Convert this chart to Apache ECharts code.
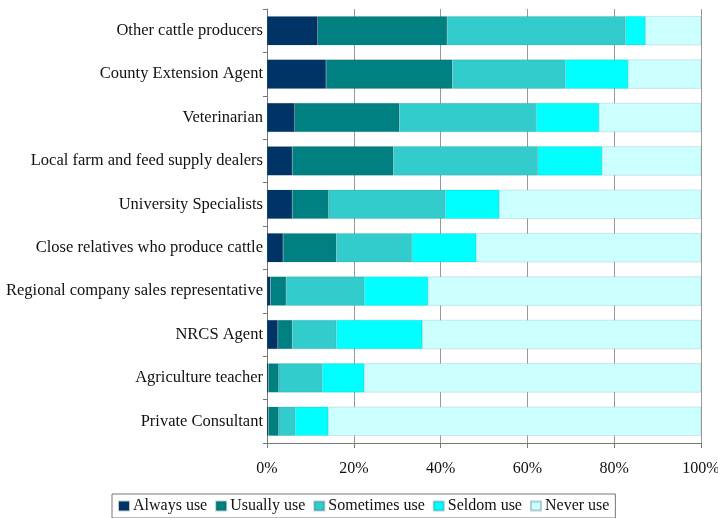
<!DOCTYPE html>
<html><head><meta charset="utf-8">
<script src="https://cdn.jsdelivr.net/npm/echarts@6/dist/echarts.min.js"></script>
<style>html,body{margin:0;padding:0;background:#fff}#c{width:718px;height:518px}</style>
</head><body><div id="c"></div>
<script>
const categories = ["Other cattle producers","County Extension Agent","Veterinarian","Local farm and feed supply dealers","University Specialists","Close relatives who produce cattle","Regional company sales representative","NRCS Agent","Agriculture teacher","Private Consultant"];
const seriesNames = ["Always use","Usually use","Sometimes use","Seldom use","Never use"];
const alwaysUse    = [11.7, 13.6, 6.4, 5.8, 5.8, 3.7, 0.8, 2.5, 0.3, 0.3];
const usuallyUse   = [29.8, 29.1, 24.1, 23.3, 8.4, 12.3, 3.6, 3.3, 2.4, 2.4];
const sometimesUse = [41.1, 26.0, 31.5, 33.3, 26.9, 17.4, 18.0, 10.2, 10.0, 3.8];
const seldomUse    = [4.6, 14.5, 14.5, 14.8, 12.4, 14.8, 14.7, 19.8, 9.7, 7.6];
const neverUse     = [12.8, 16.8, 23.5, 22.8, 46.5, 51.8, 62.9, 64.2, 77.6, 85.9];
const xTicks = [0, 20, 40, 60, 80, 100];
const colors = ["#003366","#008080","#33CCCC","#00FFFF","#CCFFFF"];
const values = [alwaysUse, usuallyUse, sometimesUse, seldomUse, neverUse];

const chart = echarts.init(document.getElementById('c'));
const font = "'Liberation Serif', 'DejaVu Serif', serif";
chart.setOption({
  animation: false,
  color: colors,
  grid: {left: 267, right: 17, top: 9, height: 434, containLabel: false, outerBoundsMode: 'none'},
  legend: {
    data: seriesNames, top: 494, left: 112,
    itemWidth: 10, itemHeight: 9, itemGap: 8,
    icon: 'rect',
    borderColor: '#777', borderWidth: 1, padding: [4, 6, 4, 6],
    textStyle: {fontFamily: font, fontSize: 16, color: '#111', padding: [0, 0, 0, -1]}
  },
  xAxis: {
    type: 'value', min: 0, max: 100, interval: 20,
    axisLabel: {formatter: v => xTicks.includes(v) ? v + '%' : '', fontFamily: font, fontSize: 16, color: '#111', margin: 18},
    axisLine: {show: true, lineStyle: {color: '#777'}},
    axisTick: {show: true, length: 5, lineStyle: {color: '#777'}},
    splitLine: {show: true, lineStyle: {color: '#999', width: 1}}
  },
  yAxis: {
    type: 'category', data: categories, inverse: true,
    axisLabel: {fontFamily: font, fontSize: 16.5, color: '#111', margin: 4},
    axisLine: {show: true, lineStyle: {color: '#777'}},
    axisTick: {show: true, length: 4, lineStyle: {color: '#777'}}
  },
  series: seriesNames.map((n, i) => ({
    name: n, type: 'bar', stack: 'total', data: values[i],
    barCategoryGap: '33%',
    itemStyle: {color: colors[i], borderColor: 'rgba(0,60,60,0.25)', borderWidth: 0.5}
  }))
});
</script></body></html>
